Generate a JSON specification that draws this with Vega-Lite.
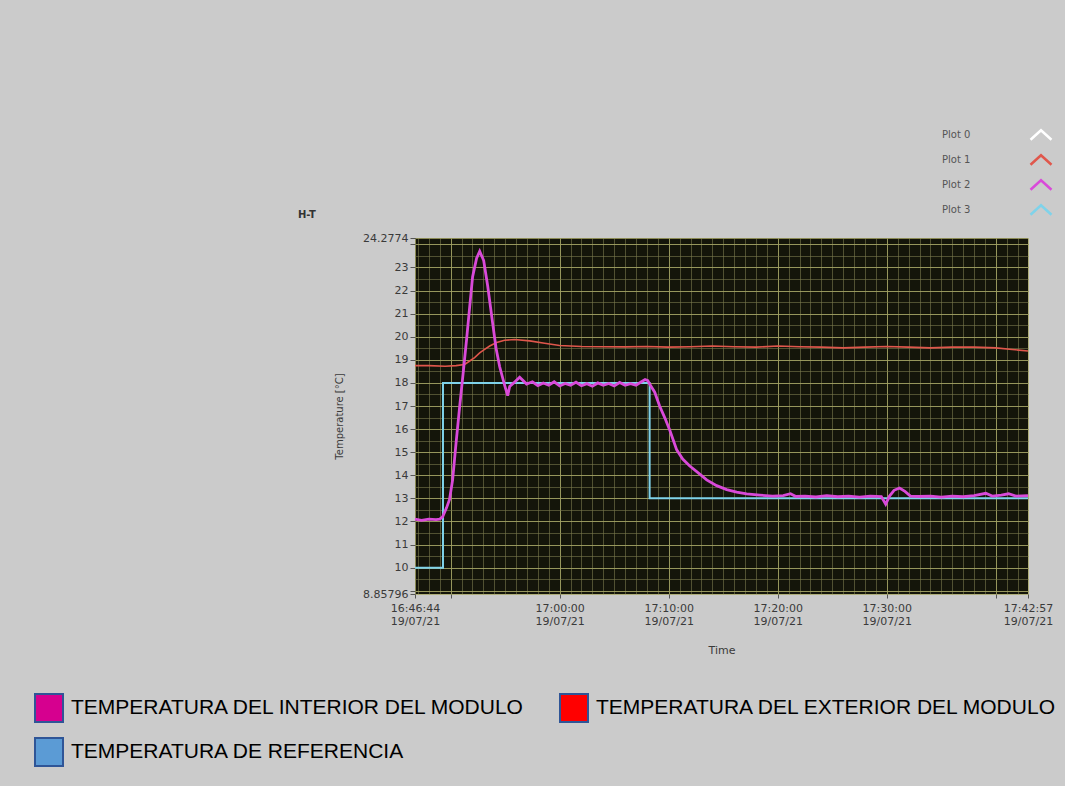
{
  "$schema": "https://vega.github.io/schema/vega-lite/v6.json",
  "width": 613,
  "height": 356,
  "autosize": {"type": "none"},
  "padding": {"left": 415, "top": 238, "right": 37, "bottom": 192},
  "background": "#cbcbcb",
  "title": {"text": "H-T", "anchor": "start", "frame": "group", "dx": -117, "offset": -97, "fontSize": 10, "fontWeight": "bold", "color": "#333333", "font": "DejaVu Sans"},
  "config": {
    "view": {"fill": "#14150a", "stroke": null},
    "axis": {"labelFont": "DejaVu Sans", "titleFont": "DejaVu Sans"},
    "legend": {"labelFont": "Liberation Sans", "padding": 0}
  },
  "datasets": {
    "temps": [
      {"t": "2021-07-19T16:46:44", "v": 12.1, "s": "INTERIOR"},
      {"t": "2021-07-19T16:47:20", "v": 12.05, "s": "INTERIOR"},
      {"t": "2021-07-19T16:48:00", "v": 12.1, "s": "INTERIOR"},
      {"t": "2021-07-19T16:48:40", "v": 12.08, "s": "INTERIOR"},
      {"t": "2021-07-19T16:49:00", "v": 12.1, "s": "INTERIOR"},
      {"t": "2021-07-19T16:49:16", "v": 12.2, "s": "INTERIOR"},
      {"t": "2021-07-19T16:49:38", "v": 12.6, "s": "INTERIOR"},
      {"t": "2021-07-19T16:49:54", "v": 12.95, "s": "INTERIOR"},
      {"t": "2021-07-19T16:50:11", "v": 13.8, "s": "INTERIOR"},
      {"t": "2021-07-19T16:50:30", "v": 15.4, "s": "INTERIOR"},
      {"t": "2021-07-19T16:50:50", "v": 17.0, "s": "INTERIOR"},
      {"t": "2021-07-19T16:51:10", "v": 18.5, "s": "INTERIOR"},
      {"t": "2021-07-19T16:51:28", "v": 19.9, "s": "INTERIOR"},
      {"t": "2021-07-19T16:51:45", "v": 21.3, "s": "INTERIOR"},
      {"t": "2021-07-19T16:52:01", "v": 22.6, "s": "INTERIOR"},
      {"t": "2021-07-19T16:52:23", "v": 23.4, "s": "INTERIOR"},
      {"t": "2021-07-19T16:52:40", "v": 23.7, "s": "INTERIOR"},
      {"t": "2021-07-19T16:53:02", "v": 23.3, "s": "INTERIOR"},
      {"t": "2021-07-19T16:53:24", "v": 22.2, "s": "INTERIOR"},
      {"t": "2021-07-19T16:53:51", "v": 20.6, "s": "INTERIOR"},
      {"t": "2021-07-19T16:54:10", "v": 19.5, "s": "INTERIOR"},
      {"t": "2021-07-19T16:54:30", "v": 18.7, "s": "INTERIOR"},
      {"t": "2021-07-19T16:54:57", "v": 17.9, "s": "INTERIOR"},
      {"t": "2021-07-19T16:55:14", "v": 17.45, "s": "INTERIOR"},
      {"t": "2021-07-19T16:55:25", "v": 17.85, "s": "INTERIOR"},
      {"t": "2021-07-19T16:55:47", "v": 18.0, "s": "INTERIOR"},
      {"t": "2021-07-19T16:56:20", "v": 18.25, "s": "INTERIOR"},
      {"t": "2021-07-19T16:56:58", "v": 17.95, "s": "INTERIOR"},
      {"t": "2021-07-19T16:57:30", "v": 18.05, "s": "INTERIOR"},
      {"t": "2021-07-19T16:58:00", "v": 17.88, "s": "INTERIOR"},
      {"t": "2021-07-19T16:58:30", "v": 18.0, "s": "INTERIOR"},
      {"t": "2021-07-19T16:59:00", "v": 17.9, "s": "INTERIOR"},
      {"t": "2021-07-19T16:59:30", "v": 18.05, "s": "INTERIOR"},
      {"t": "2021-07-19T17:00:00", "v": 17.87, "s": "INTERIOR"},
      {"t": "2021-07-19T17:00:30", "v": 17.98, "s": "INTERIOR"},
      {"t": "2021-07-19T17:01:00", "v": 17.9, "s": "INTERIOR"},
      {"t": "2021-07-19T17:01:30", "v": 18.03, "s": "INTERIOR"},
      {"t": "2021-07-19T17:02:00", "v": 17.88, "s": "INTERIOR"},
      {"t": "2021-07-19T17:02:30", "v": 17.97, "s": "INTERIOR"},
      {"t": "2021-07-19T17:03:00", "v": 17.86, "s": "INTERIOR"},
      {"t": "2021-07-19T17:03:30", "v": 18.0, "s": "INTERIOR"},
      {"t": "2021-07-19T17:04:00", "v": 17.9, "s": "INTERIOR"},
      {"t": "2021-07-19T17:04:30", "v": 17.98, "s": "INTERIOR"},
      {"t": "2021-07-19T17:05:00", "v": 17.87, "s": "INTERIOR"},
      {"t": "2021-07-19T17:05:30", "v": 18.02, "s": "INTERIOR"},
      {"t": "2021-07-19T17:06:00", "v": 17.9, "s": "INTERIOR"},
      {"t": "2021-07-19T17:06:30", "v": 17.97, "s": "INTERIOR"},
      {"t": "2021-07-19T17:07:00", "v": 17.9, "s": "INTERIOR"},
      {"t": "2021-07-19T17:07:30", "v": 18.05, "s": "INTERIOR"},
      {"t": "2021-07-19T17:07:50", "v": 18.15, "s": "INTERIOR"},
      {"t": "2021-07-19T17:08:05", "v": 18.1, "s": "INTERIOR"},
      {"t": "2021-07-19T17:08:15", "v": 17.95, "s": "INTERIOR"},
      {"t": "2021-07-19T17:08:43", "v": 17.6, "s": "INTERIOR"},
      {"t": "2021-07-19T17:09:10", "v": 17.0, "s": "INTERIOR"},
      {"t": "2021-07-19T17:09:38", "v": 16.5, "s": "INTERIOR"},
      {"t": "2021-07-19T17:10:06", "v": 15.95, "s": "INTERIOR"},
      {"t": "2021-07-19T17:10:44", "v": 15.1, "s": "INTERIOR"},
      {"t": "2021-07-19T17:11:17", "v": 14.7, "s": "INTERIOR"},
      {"t": "2021-07-19T17:11:56", "v": 14.4, "s": "INTERIOR"},
      {"t": "2021-07-19T17:12:51", "v": 14.05, "s": "INTERIOR"},
      {"t": "2021-07-19T17:13:29", "v": 13.8, "s": "INTERIOR"},
      {"t": "2021-07-19T17:14:24", "v": 13.55, "s": "INTERIOR"},
      {"t": "2021-07-19T17:15:19", "v": 13.38, "s": "INTERIOR"},
      {"t": "2021-07-19T17:16:14", "v": 13.27, "s": "INTERIOR"},
      {"t": "2021-07-19T17:17:09", "v": 13.19, "s": "INTERIOR"},
      {"t": "2021-07-19T17:18:21", "v": 13.14, "s": "INTERIOR"},
      {"t": "2021-07-19T17:19:32", "v": 13.1, "s": "INTERIOR"},
      {"t": "2021-07-19T17:20:30", "v": 13.12, "s": "INTERIOR"},
      {"t": "2021-07-19T17:21:10", "v": 13.2, "s": "INTERIOR"},
      {"t": "2021-07-19T17:21:40", "v": 13.08, "s": "INTERIOR"},
      {"t": "2021-07-19T17:22:30", "v": 13.1, "s": "INTERIOR"},
      {"t": "2021-07-19T17:23:30", "v": 13.06, "s": "INTERIOR"},
      {"t": "2021-07-19T17:24:30", "v": 13.12, "s": "INTERIOR"},
      {"t": "2021-07-19T17:25:30", "v": 13.07, "s": "INTERIOR"},
      {"t": "2021-07-19T17:26:30", "v": 13.1, "s": "INTERIOR"},
      {"t": "2021-07-19T17:27:30", "v": 13.05, "s": "INTERIOR"},
      {"t": "2021-07-19T17:28:30", "v": 13.1, "s": "INTERIOR"},
      {"t": "2021-07-19T17:29:30", "v": 13.08, "s": "INTERIOR"},
      {"t": "2021-07-19T17:29:54", "v": 12.75, "s": "INTERIOR"},
      {"t": "2021-07-19T17:30:15", "v": 13.1, "s": "INTERIOR"},
      {"t": "2021-07-19T17:30:40", "v": 13.35, "s": "INTERIOR"},
      {"t": "2021-07-19T17:31:10", "v": 13.45, "s": "INTERIOR"},
      {"t": "2021-07-19T17:31:40", "v": 13.3, "s": "INTERIOR"},
      {"t": "2021-07-19T17:32:10", "v": 13.1, "s": "INTERIOR"},
      {"t": "2021-07-19T17:33:00", "v": 13.08, "s": "INTERIOR"},
      {"t": "2021-07-19T17:34:00", "v": 13.1, "s": "INTERIOR"},
      {"t": "2021-07-19T17:35:00", "v": 13.05, "s": "INTERIOR"},
      {"t": "2021-07-19T17:36:00", "v": 13.1, "s": "INTERIOR"},
      {"t": "2021-07-19T17:37:00", "v": 13.07, "s": "INTERIOR"},
      {"t": "2021-07-19T17:38:00", "v": 13.12, "s": "INTERIOR"},
      {"t": "2021-07-19T17:39:05", "v": 13.22, "s": "INTERIOR"},
      {"t": "2021-07-19T17:39:40", "v": 13.1, "s": "INTERIOR"},
      {"t": "2021-07-19T17:40:30", "v": 13.14, "s": "INTERIOR"},
      {"t": "2021-07-19T17:41:10", "v": 13.2, "s": "INTERIOR"},
      {"t": "2021-07-19T17:41:50", "v": 13.1, "s": "INTERIOR"},
      {"t": "2021-07-19T17:42:57", "v": 13.12, "s": "INTERIOR"},

      {"t": "2021-07-19T16:46:44", "v": 18.75, "s": "EXTERIOR"},
      {"t": "2021-07-19T16:48:00", "v": 18.75, "s": "EXTERIOR"},
      {"t": "2021-07-19T16:49:30", "v": 18.72, "s": "EXTERIOR"},
      {"t": "2021-07-19T16:50:30", "v": 18.75, "s": "EXTERIOR"},
      {"t": "2021-07-19T16:51:17", "v": 18.8, "s": "EXTERIOR"},
      {"t": "2021-07-19T16:51:45", "v": 18.95, "s": "EXTERIOR"},
      {"t": "2021-07-19T16:52:12", "v": 19.1, "s": "EXTERIOR"},
      {"t": "2021-07-19T16:52:40", "v": 19.3, "s": "EXTERIOR"},
      {"t": "2021-07-19T16:53:07", "v": 19.45, "s": "EXTERIOR"},
      {"t": "2021-07-19T16:53:35", "v": 19.6, "s": "EXTERIOR"},
      {"t": "2021-07-19T16:54:13", "v": 19.75, "s": "EXTERIOR"},
      {"t": "2021-07-19T16:54:57", "v": 19.85, "s": "EXTERIOR"},
      {"t": "2021-07-19T16:55:52", "v": 19.88, "s": "EXTERIOR"},
      {"t": "2021-07-19T16:57:15", "v": 19.82, "s": "EXTERIOR"},
      {"t": "2021-07-19T16:58:37", "v": 19.72, "s": "EXTERIOR"},
      {"t": "2021-07-19T17:00:00", "v": 19.62, "s": "EXTERIOR"},
      {"t": "2021-07-19T17:02:00", "v": 19.58, "s": "EXTERIOR"},
      {"t": "2021-07-19T17:04:00", "v": 19.57, "s": "EXTERIOR"},
      {"t": "2021-07-19T17:06:00", "v": 19.56, "s": "EXTERIOR"},
      {"t": "2021-07-19T17:08:00", "v": 19.58, "s": "EXTERIOR"},
      {"t": "2021-07-19T17:10:00", "v": 19.55, "s": "EXTERIOR"},
      {"t": "2021-07-19T17:12:00", "v": 19.57, "s": "EXTERIOR"},
      {"t": "2021-07-19T17:14:00", "v": 19.6, "s": "EXTERIOR"},
      {"t": "2021-07-19T17:16:00", "v": 19.57, "s": "EXTERIOR"},
      {"t": "2021-07-19T17:18:00", "v": 19.55, "s": "EXTERIOR"},
      {"t": "2021-07-19T17:20:00", "v": 19.6, "s": "EXTERIOR"},
      {"t": "2021-07-19T17:22:00", "v": 19.57, "s": "EXTERIOR"},
      {"t": "2021-07-19T17:24:00", "v": 19.55, "s": "EXTERIOR"},
      {"t": "2021-07-19T17:26:00", "v": 19.52, "s": "EXTERIOR"},
      {"t": "2021-07-19T17:28:00", "v": 19.55, "s": "EXTERIOR"},
      {"t": "2021-07-19T17:30:00", "v": 19.58, "s": "EXTERIOR"},
      {"t": "2021-07-19T17:32:00", "v": 19.55, "s": "EXTERIOR"},
      {"t": "2021-07-19T17:34:00", "v": 19.52, "s": "EXTERIOR"},
      {"t": "2021-07-19T17:36:00", "v": 19.55, "s": "EXTERIOR"},
      {"t": "2021-07-19T17:38:00", "v": 19.55, "s": "EXTERIOR"},
      {"t": "2021-07-19T17:40:00", "v": 19.52, "s": "EXTERIOR"},
      {"t": "2021-07-19T17:41:30", "v": 19.45, "s": "EXTERIOR"},
      {"t": "2021-07-19T17:42:57", "v": 19.38, "s": "EXTERIOR"},

      {"t": "2021-07-19T16:46:44", "v": 10, "s": "REFERENCIA"},
      {"t": "2021-07-19T16:49:18", "v": 18, "s": "REFERENCIA"},
      {"t": "2021-07-19T17:08:15", "v": 13, "s": "REFERENCIA"},
      {"t": "2021-07-19T17:42:57", "v": 13, "s": "REFERENCIA"}
    ]
  },
  "data": {"name": "temps"},
  "layer": [
    {
      "mark": {"type": "point", "shape": "square", "filled": true, "opacity": 0},
      "encoding": {
        "x": {
          "field": "t", "type": "temporal",
          "scale": {"domain": [{"year": 2021, "month": 7, "date": 19, "hours": 16, "minutes": 46, "seconds": 44}, {"year": 2021, "month": 7, "date": 19, "hours": 17, "minutes": 42, "seconds": 57}], "nice": false},
          "axis": {"orient": "top", "grid": true, "tickCount": 56, "gridColor": "#7a7a4c", "gridOpacity": 0.6, "gridWidth": 1, "labels": false, "ticks": false, "domain": false, "title": null}
        },
        "y": {
          "field": "v", "type": "quantitative",
          "scale": {"domain": [8.85796, 24.2774], "nice": false, "zero": false},
          "axis": {"orient": "right", "values": [9, 9.5, 10, 10.5, 11, 11.5, 12, 12.5, 13, 13.5, 14, 14.5, 15, 15.5, 16, 16.5, 17, 17.5, 18, 18.5, 19, 19.5, 20, 20.5, 21, 21.5, 22, 22.5, 23, 23.5, 24], "grid": true, "gridColor": "#7a7a4c", "gridOpacity": 0.6, "gridWidth": 1, "labels": false, "ticks": false, "domain": false, "title": null}
        },
        "fill": {
          "field": "s", "type": "nominal",
          "scale": {"domain": ["INTERIOR", "EXTERIOR", "REFERENCIA"], "range": ["#d6008f", "#ff0000", "#5b9bd5"]},
          "legend": {
            "orient": "none", "legendX": -381, "legendY": 455, "direction": "horizontal", "columns": 2, "title": null,
            "symbolType": "square", "symbolSize": 784, "symbolStrokeColor": "#2f5597", "symbolStrokeWidth": 2, "symbolOpacity": 1,
            "labelFontSize": 21, "labelColor": "#000000", "labelLimit": 0, "labelOffset": 7,
            "columnPadding": 30, "rowPadding": 8,
            "labelExpr": "datum.value == 'INTERIOR' ? 'TEMPERATURA DEL INTERIOR DEL MODULO' : datum.value == 'EXTERIOR' ? 'TEMPERATURA DEL EXTERIOR DEL  MODULO' : 'TEMPERATURA DE REFERENCIA'"
          }
        }
      }
    },
    {
      "transform": [{"filter": "datum.s == 'EXTERIOR'"}],
      "mark": {"type": "line", "strokeWidth": 1.6},
      "encoding": {
        "x": {
          "field": "t", "type": "temporal",
          "axis": {
            "orient": "bottom",
            "values": [
              {"year": 2021, "month": 7, "date": 19, "hours": 16, "minutes": 46, "seconds": 44},
              {"year": 2021, "month": 7, "date": 19, "hours": 16, "minutes": 50},
              {"year": 2021, "month": 7, "date": 19, "hours": 17, "minutes": 0},
              {"year": 2021, "month": 7, "date": 19, "hours": 17, "minutes": 10},
              {"year": 2021, "month": 7, "date": 19, "hours": 17, "minutes": 20},
              {"year": 2021, "month": 7, "date": 19, "hours": 17, "minutes": 30},
              {"year": 2021, "month": 7, "date": 19, "hours": 17, "minutes": 40},
              {"year": 2021, "month": 7, "date": 19, "hours": 17, "minutes": 42, "seconds": 57}
            ],
            "labelExpr": "(seconds(datum.value) == 0 && (minutes(datum.value) == 50 || minutes(datum.value) == 40)) ? '' : [timeFormat(datum.value, '%H:%M:%S'), timeFormat(datum.value, '%d/%m/%y')]",
            "grid": true, "gridColor": "#a8a866", "gridOpacity": 0.8,
            "labelFontSize": 11, "labelColor": "#3a3a3a", "labelLineHeight": 13, "labelOverlap": false, "labelFlush": false, "labelBound": false, "labelPadding": 4,
            "tickSize": 4, "tickColor": "#555555", "domain": false,
            "title": "Time", "titleFontSize": 11, "titleFontWeight": "normal", "titleColor": "#3a3a3a", "titlePadding": 18
          }
        },
        "y": {
          "field": "v", "type": "quantitative",
          "axis": {
            "values": [8.85796, 9, 10, 11, 12, 13, 14, 15, 16, 17, 18, 19, 20, 21, 22, 23, 24, 24.2774],
            "labelExpr": "datum.value == 9 || datum.value == 24 ? '' : format(datum.value, '.6~g')",
            "grid": true, "gridColor": "#a8a866", "gridOpacity": 0.8,
            "labelFontSize": 11, "labelColor": "#3a3a3a", "labelPadding": 2, "labelOverlap": false, "labelBound": false, "labelFlush": false,
            "tickSize": 5, "tickColor": "#555555", "domain": false,
            "title": "Temperature [°C]", "titleFontSize": 10, "titleFontWeight": "normal", "titleColor": "#3a3a3a", "titlePadding": 18
          }
        },
        "stroke": {
          "field": "s", "type": "nominal",
          "scale": {"domain": ["PLOT0", "EXTERIOR", "INTERIOR", "REFERENCIA"], "range": ["#ffffff", "#e0574c", "#d94ad9", "#7fd3ea"]},
          "legend": {
            "orient": "none", "legendX": 614, "legendY": -115, "direction": "vertical", "title": null,
            "symbolType": "M-1,0.45L0,-0.45L1,0.45", "symbolSize": 440, "symbolStrokeWidth": 2.5, "symbolFillColor": "transparent",
            "labelFontSize": 10, "labelFont": "DejaVu Sans", "labelColor": "#555555", "labelOffset": -111, "rowPadding": 3,
            "labelExpr": "datum.value == 'EXTERIOR' ? 'Plot 1' : datum.value == 'INTERIOR' ? 'Plot 2' : datum.value == 'REFERENCIA' ? 'Plot 3' : 'Plot 0'"
          }
        }
      }
    },
    {
      "transform": [{"filter": "datum.s == 'REFERENCIA'"}],
      "mark": {"type": "line", "strokeWidth": 2, "interpolate": "step-after"},
      "encoding": {
        "x": {"field": "t", "type": "temporal", "axis": null},
        "y": {"field": "v", "type": "quantitative", "axis": null},
        "stroke": {"field": "s", "type": "nominal"}
      }
    },
    {
      "transform": [{"filter": "datum.s == 'INTERIOR'"}],
      "mark": {"type": "line", "strokeWidth": 2.8},
      "encoding": {
        "x": {"field": "t", "type": "temporal", "axis": null},
        "y": {"field": "v", "type": "quantitative", "axis": null},
        "stroke": {"field": "s", "type": "nominal"}
      }
    }
  ],
  "resolve": {"axis": {"x": "independent", "y": "independent"}}
}
